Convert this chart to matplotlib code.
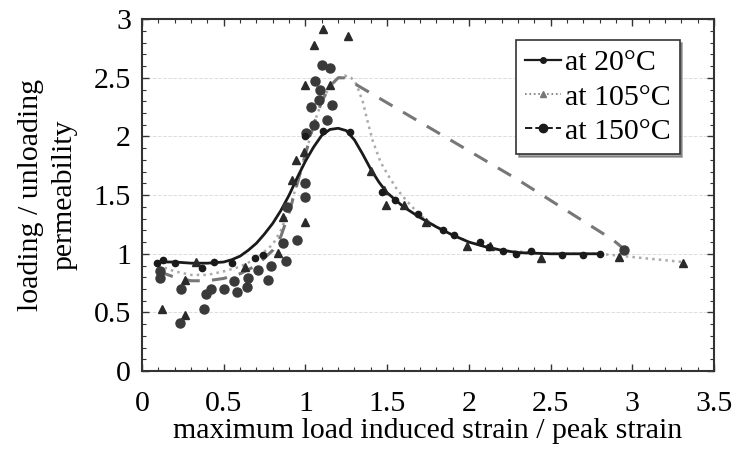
"""Loading/unloading permeability vs normalised strain at three temperatures."""

import matplotlib
matplotlib.use("Agg")
import matplotlib.pyplot as plt
from matplotlib.ticker import MultipleLocator

plt.rcParams["font.family"] = ["Liberation Serif", "DejaVu Serif"]

# fitted trend lines
fit20_x = [0.10, 0.20, 0.30, 0.40, 0.50, 0.55, 0.60, 0.65, 0.70, 0.75, 0.80, 0.85, 0.90, 0.95, 1.00,
           1.05, 1.10, 1.15, 1.20, 1.25, 1.30, 1.35, 1.40, 1.45, 1.50, 1.60, 1.70, 1.80, 1.90, 2.00,
           2.10, 2.20, 2.30, 2.50, 2.80]
fit20_y = [0.93, 0.93, 0.92, 0.92, 0.93, 0.95, 0.98, 1.03, 1.09, 1.17, 1.26, 1.37, 1.50, 1.65, 1.79,
           1.91, 2.01, 2.06, 2.07, 2.05, 1.97, 1.85, 1.72, 1.61, 1.52, 1.40, 1.31, 1.23, 1.16, 1.10,
           1.06, 1.03, 1.01, 1.00, 1.00]

fit105_x = [0.10, 0.20, 0.30, 0.40, 0.50, 0.60, 0.70, 0.80, 0.85, 0.90, 0.95, 1.00, 1.05, 1.10, 1.15,
            1.20, 1.24, 1.28, 1.31, 1.35, 1.38, 1.41, 1.46, 1.51, 1.56, 1.62, 1.70, 1.80, 1.90, 2.00,
            2.20, 2.50, 2.80, 3.31]
fit105_y = [0.90, 0.85, 0.82, 0.82, 0.85, 0.89, 0.96, 1.08, 1.20, 1.38, 1.60, 1.85, 2.10, 2.30, 2.43,
            2.50, 2.52, 2.50, 2.45, 2.30, 2.13, 1.97, 1.78, 1.66, 1.55, 1.45, 1.33, 1.23, 1.16, 1.10,
            1.03, 1.00, 1.00, 0.93]

fit150_x = [0.10, 0.20, 0.30, 0.40, 0.50, 0.60, 0.70, 0.80, 0.85, 0.90, 0.95, 1.00, 1.05, 1.10, 1.15,
            1.20, 1.24, 2.29, 2.88, 2.95]
fit150_y = [0.85, 0.80, 0.77, 0.77, 0.79, 0.83, 0.90, 1.03, 1.15, 1.35, 1.60, 1.85, 2.10, 2.30, 2.43,
            2.50, 2.50, 1.64, 1.12, 1.04]

# measured points
pts20_x = [0.09, 0.13, 0.20, 0.37, 0.44, 0.55, 0.69, 0.74, 1.00, 1.11, 1.27, 1.47, 1.545, 1.69, 1.84,
           1.91, 2.07, 2.12, 2.21, 2.29, 2.38, 2.57, 2.70, 2.80]
pts20_y = [0.92, 0.95, 0.92, 0.88, 0.93, 0.92, 0.96, 0.99, 2.00, 2.05, 2.04, 1.53, 1.46, 1.34, 1.20,
           1.16, 1.10, 1.06, 1.02, 1.00, 1.02, 0.99, 0.99, 1.00]

pts105_x = [0.12, 0.26, 0.26, 0.33, 0.63, 0.83, 0.86, 0.92, 0.94, 0.99, 0.995, 0.995, 1.05, 1.107, 1.15,
            1.26, 1.40, 1.48, 1.49, 1.60, 1.74, 1.99, 2.13, 2.44, 2.92, 3.31]
pts105_y = [0.53, 0.48, 0.78, 0.93, 0.89, 1.01, 1.31, 1.63, 1.80, 1.87, 1.27, 2.44, 2.78, 2.92, 2.44,
            2.86, 1.71, 1.54, 1.42, 1.42, 1.27, 1.07, 1.07, 0.96, 0.97, 0.92]

pts150_x = [0.11, 0.11, 0.23, 0.24, 0.38, 0.39, 0.42, 0.50, 0.56, 0.58, 0.64, 0.65, 0.71, 0.77, 0.79,
            0.86, 0.88, 0.89, 0.95, 1.00, 1.00, 1.005, 1.035, 1.05, 1.056, 1.08, 1.09, 1.10, 1.13,
            1.15, 1.16, 2.95]
pts150_y = [0.85, 0.79, 0.41, 0.70, 0.53, 0.66, 0.70, 0.70, 0.77, 0.67, 0.72, 0.79, 0.86, 0.78, 0.90,
            1.09, 0.94, 1.40, 1.12, 1.48, 1.60, 2.03, 2.25, 2.10, 2.47, 2.31, 2.40, 2.61, 2.14,
            2.58, 2.27, 1.03]

FS = 21.5

fig = plt.figure(figsize=(7.34, 4.57), dpi=100)
ax = fig.add_axes([0.1935, 0.188, 0.7793, 0.770])

ax.yaxis.grid(True, color="#dddddd", linestyle="--", linewidth=0.7)
ax.set_axisbelow(True)

ax.plot(fit105_x, fit105_y, linestyle=":", color="#aaaaaa", linewidth=1.8, zorder=2)
ax.plot(fit150_x, fit150_y, linestyle=(0, (5, 4)), color="#777777", linewidth=2.2, zorder=2)
ax.plot(fit20_x, fit20_y, linestyle="-", color="#1a1a1a", linewidth=2.0, zorder=3)

ax.plot(pts105_x, pts105_y, linestyle="none", marker="^", markersize=6, color="#2a2a2a", zorder=4)
ax.plot(pts150_x, pts150_y, linestyle="none", marker="o", markersize=6.5, color="#3a3a3a", zorder=4)
ax.plot(pts20_x, pts20_y, linestyle="none", marker="o", markersize=4.5, color="#1a1a1a", zorder=5)

# legend proxies
ax.plot([], [], "-", color="#1a1a1a", lw=1.6, marker="o", ms=4, label="at 20°C")
ax.plot([], [], ":", color="#777777", lw=1.2, marker="^", ms=5, label="at 105°C")
ax.plot([], [], "--", color="#1a1a1a", lw=1.4, marker="o", ms=6, label="at 150°C")

leg = ax.legend(loc="upper right", bbox_to_anchor=(0.94, 0.94), fontsize=FS, frameon=True,
                fancybox=False, shadow=True, handlelength=1.2, handletextpad=0.15,
                borderpad=0.3, labelspacing=0.25, borderaxespad=0)
leg.get_frame().set_edgecolor("#333333")
leg.get_frame().set_linewidth(1.2)

ax.set_xlim(0, 3.5)
ax.set_ylim(0, 3)
ax.xaxis.set_major_locator(MultipleLocator(0.5))
ax.xaxis.set_minor_locator(MultipleLocator(0.1))
ax.yaxis.set_major_locator(MultipleLocator(0.5))
ax.yaxis.set_minor_locator(MultipleLocator(0.1))
ax.xaxis.set_major_formatter(plt.FuncFormatter(lambda v, p: f"{v:g}"))
ax.yaxis.set_major_formatter(plt.FuncFormatter(lambda v, p: f"{v:g}"))

ax.tick_params(which="both", direction="in", top=True, right=True, colors="#333333")
ax.tick_params(which="major", length=5, width=1.0, labelsize=FS, labelcolor="black")
ax.tick_params(which="minor", length=3, width=0.8)
ax.tick_params(axis="x", which="major", pad=14)
ax.tick_params(axis="y", which="major", pad=8)
for s in ax.spines.values():
    s.set_color("#333333")
    s.set_linewidth(1.5)

ax.set_xlabel("maximum load induced strain / peak strain", fontsize=FS, labelpad=1)
ax.set_ylabel("loading / unloading\npermeability", fontsize=FS, labelpad=12, linespacing=1.35)

fig.savefig("out.png", dpi=100)
plt.close(fig)
